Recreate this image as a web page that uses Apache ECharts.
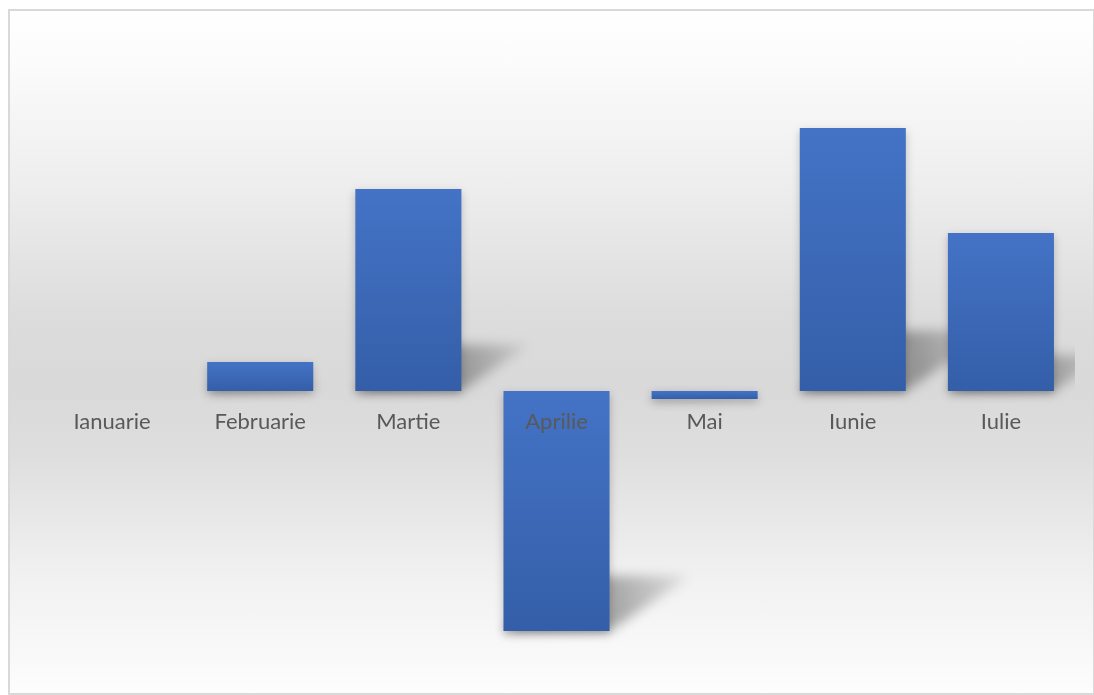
<!DOCTYPE html>
<html>
<head>
<meta charset="utf-8">
<script src="https://cdn.jsdelivr.net/npm/echarts@6/dist/echarts.min.js"></script>
<style>
html,body{margin:0;padding:0;width:1094px;height:695px;overflow:hidden;background:#fff;}
#frame{position:absolute;left:8px;top:9px;width:1083px;height:682px;border:2px solid #d9d9d9;
background:linear-gradient(to bottom,#ffffff 0%,#fbfbfb 8%,#eeeeee 25%,#dcdcdc 45%,#d9d9d9 55%,#dedede 65%,#f0f0f0 82%,#fdfdfd 100%);}
#chart{position:absolute;left:0;top:0;width:1094px;height:695px;}
</style>
</head>
<body>
<div id="frame"></div>
<div id="chart"></div>
<script>
var categories = ['Ianuarie','Februarie','Martie','Aprilie','Mai','Iunie','Iulie'];
var values = [0, 2.9, 20.2, -24.0, -0.8, 26.3, 15.8];

var chart = echarts.init(document.getElementById('chart'), null, {renderer:'canvas'});
var BAR_RATIO = 0.716;
var OFF = 3000;

var pointData = values.map(function(v,i){ return [i, v]; });

chart.setOption({
  backgroundColor: 'transparent',
  animation: false,
  grid: {left: 38, right: 19, top: 41, bottom: 4, containLabel: false, outerBoundsMode: 'none'},
  xAxis: {
    type: 'category',
    data: categories,
    axisLine: {show: false},
    axisTick: {show: false},
    axisLabel: {show: false},
    splitLine: {show: false}
  },
  yAxis: {
    type: 'value',
    min: -30,
    max: 35,
    show: false,
    splitLine: {show: false}
  },
  series: [
    {
      type: 'custom',
      z: 1,
      clip: true,
      data: pointData,
      renderItem: function(params, api){
        var idx = api.value(0), v = api.value(1);
        var base = api.coord([idx, 0]);
        var top = api.coord([idx, v]);
        var size = api.size([1, 0])[0];
        var w = size * BAR_RATIO;
        var xl = base[0] - w/2 - OFF, xr = base[0] + w/2 - OFF;
        var yb = Math.max(base[1], top[1]);
        var h = Math.abs(base[1] - top[1]);
        if (h < 1) return null;
        var dx = 0.34 * h, dy = 0.23 * h;
        return {
          type: 'polygon',
          shape: {points: [[xl, yb], [xr, yb], [xr + dx, yb - dy], [xl + dx, yb - dy]]},
          style: {
            fill: new echarts.graphic.LinearGradient(0, 1, 1, 0, [
              {offset: 0, color: 'rgba(0,0,0,0.46)'},
              {offset: 0.6, color: 'rgba(0,0,0,0.30)'},
              {offset: 1, color: 'rgba(0,0,0,0.06)'}
            ]),
            shadowBlur: 12,
            shadowOffsetX: OFF,
            shadowColor: 'rgba(0,0,0,1)'
          },
          silent: true
        };
      }
    },
    {
      type: 'bar',
      z: 2,
      data: values,
      barCategoryGap: '28.4%',
      itemStyle: {
        color: new echarts.graphic.LinearGradient(0, 0, 0, 1, [
          {offset: 0, color: '#4473c6'},
          {offset: 1, color: '#345ea8'}
        ]),
        shadowBlur: 8,
        shadowOffsetY: 3,
        shadowColor: 'rgba(0,0,0,0.22)'
      }
    },
    {
      type: 'custom',
      z: 5,
      clip: false,
      data: pointData,
      renderItem: function(params, api){
        var idx = api.value(0);
        var p = api.coord([idx, 0]);
        return {
          type: 'text',
          style: {
            text: categories[idx],
            x: p[0],
            y: p[1] + 31,
            align: 'center',
            verticalAlign: 'middle',
            fill: '#595959',
            font: '22px Lato, sans-serif'
          },
          silent: true
        };
      }
    }
  ]
});
</script>
</body>
</html>
